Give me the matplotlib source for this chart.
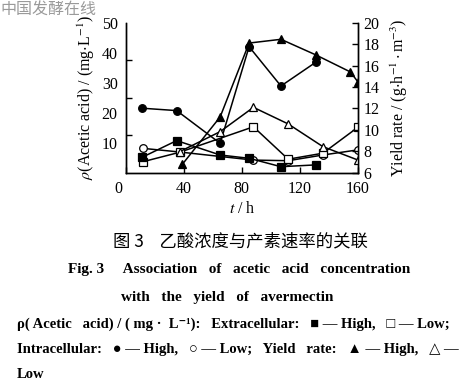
import matplotlib
matplotlib.use("Agg")
import matplotlib.pyplot as plt
from matplotlib.transforms import ScaledTranslation

plt.rcParams['font.family'] = ['Liberation Serif', 'DejaVu Sans']
plt.rcParams['mathtext.fontset'] = 'stix'

# ---- data ----
t_ext_high = [11, 35, 65, 85, 107, 131]
ext_high = [5.1, 10.7, 5.9, 4.8, 2.0, 2.6]
t_ext_low = [12, 37, 88, 112, 136, 160]
ext_low = [3.7, 6.8, 15.3, 4.5, 6.5, 15.1]
t_int_high = [11, 35, 65, 85, 107, 131]
int_high = [21.5, 20.7, 9.8, 42.0, 28.9, 36.8]
t_int_low = [12, 37, 88, 112, 136, 160]
int_low = [8.1, 6.9, 4.2, 4.0, 5.9, 7.6]
t_yield_high = [39, 65, 85, 107, 131, 155, 160]
yield_high = [6.8, 11.2, 18.1, 18.45, 17.0, 15.4, 14.5]
t_yield_low = [37, 65, 88, 112, 136, 160]
yield_low = [7.96, 9.83, 12.1, 10.55, 8.43, 7.19]

x_ticks = [0, 40, 80, 120, 160]
left_ticks = [10, 20, 30, 40, 50]
left_tick_marks = [12.5, 25, 37.5]
right_ticks = [6, 8, 10, 12, 14, 16, 18, 20]

fig = plt.figure(figsize=(4.77, 3.88), dpi=100)
ax = fig.add_axes([126/477, 1-172.7/388, (357.7-126)/477, 150/388])
ax2 = ax.twinx()

lw = 1.1
ms = 5.5
common = dict(color='black', lw=lw, markeredgecolor='black', markeredgewidth=0.9, ms=ms)
ax.plot(t_int_low, int_low, marker='o', markerfacecolor='white', **common, zorder=3)
ax.plot(t_ext_low, ext_low, marker='s', markerfacecolor='white', **common, zorder=4)
ax.plot(t_ext_high, ext_high, marker='s', markerfacecolor='black', **common, zorder=4)
ax.plot(t_int_high, int_high, marker='o', markerfacecolor='black', **common, zorder=4)
ax2.plot(t_yield_low, yield_low, marker='^', markerfacecolor='white', **common)
ax2.plot(t_yield_high, yield_high, marker='^', markerfacecolor='black', **common)

ax.set_xlim(0, 160)
ax.set_ylim(0, 50)
ax2.set_ylim(6, 20)

for a in (ax, ax2):
    a.spines['top'].set_visible(False)
    for s in a.spines.values():
        s.set_linewidth(1.0)

fs = 11.5
ax.set_xticks(x_ticks)
ax.set_xticklabels([str(v) for v in x_ticks], fontsize=fs)
ax.tick_params(axis='x', direction='in', length=4, width=1, pad=6)
lab0 = ax.get_xticklabels()[0]
lab0.set_transform(lab0.get_transform() + ScaledTranslation(-8/100, 0, fig.dpi_scale_trans))
ax.set_yticks(left_ticks)
ax.set_yticklabels([str(v) for v in left_ticks], fontsize=fs)
ax.tick_params(axis='y', which='major', length=0, pad=6)
ax.set_yticks(left_tick_marks, minor=True)
ax.tick_params(axis='y', which='minor', direction='in', length=4, width=1)
ax2.set_yticks(right_ticks)
ax2.set_yticklabels([str(v) for v in right_ticks], fontsize=fs)
ax2.tick_params(axis='y', direction='in', length=4, width=1, pad=4)

ax.set_ylabel(r'$\rho$(Acetic acid) / (mg$\cdot$L$^{-1}$)', fontsize=fs, labelpad=3)
ax2.set_ylabel(r'Yield rate / (g$\cdot$h$^{-1}\cdot$m$^{-3}$)', fontsize=fs, labelpad=7)
ax.set_xlabel(r'$t$ / h', fontsize=fs, labelpad=3)

# watermark
fig.text(0/477, 1-9/388, '中国发酵在线', fontsize=11.5, color='#9a9a9a',
         family=['Noto Sans CJK SC', 'DejaVu Sans'], va='center', ha='left')

# captions
fig.text(240/477, 1-241/388, '图 3    乙酸浓度与产素速率的关联', fontsize=12.5,
         family=['Noto Sans CJK SC', 'DejaVu Sans'], ha='center', va='center')
fig.text(239/477, 1-270/388, 'Fig. 3     Association   of   acetic   acid   concentration',
         fontsize=11, fontweight='bold', ha='center', va='center')
fig.text(227/477, 1-297/388, 'with   the   yield   of   avermectin',
         fontsize=11, fontweight='bold', ha='center', va='center')
leg_fs = 10.5
fig.text(17/477, 1-324/388,
         'ρ( Acetic   acid) / ( mg ·  L⁻¹):   Extracellular:   ■ — High,   □ — Low;',
         fontsize=leg_fs, fontweight='bold', ha='left', va='center')
fig.text(17/477, 1-349/388,
         'Intracellular:   ● — High,   ○ — Low;   Yield   rate:   ▲ — High,   △ —',
         fontsize=leg_fs, fontweight='bold', ha='left', va='center')
fig.text(17/477, 1-374/388, 'Low', fontsize=leg_fs, fontweight='bold', ha='left', va='center')

fig.savefig('out.png', dpi=100)
